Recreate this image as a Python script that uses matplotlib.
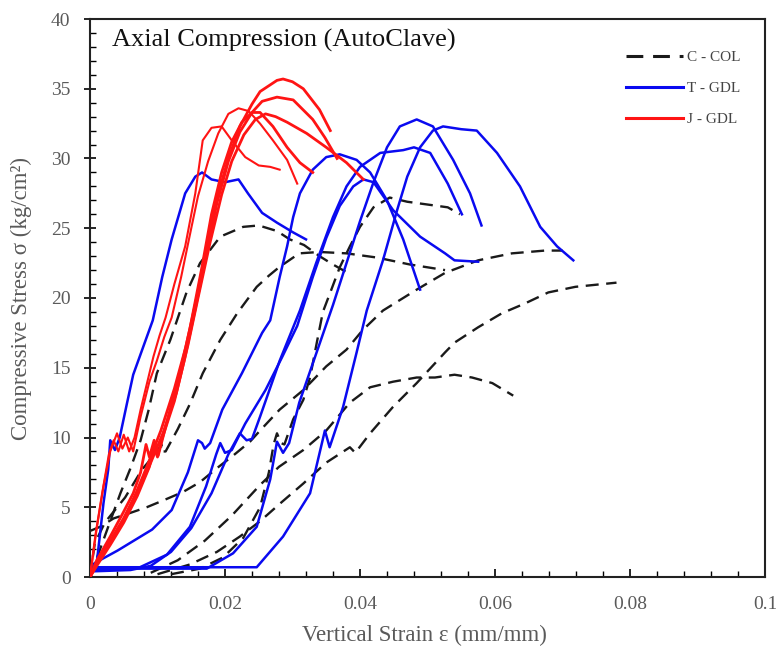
import matplotlib
matplotlib.use("Agg")
import matplotlib.pyplot as plt
from matplotlib.ticker import MultipleLocator, FuncFormatter

plt.rcParams['font.family'] = ['Liberation Serif', 'DejaVu Serif']

# ---------------- C - COL (black dashed) ----------------
c1_x = [0, 0.0015, 0.003, 0.0045, 0.006, 0.0075, 0.0087, 0.0099, 0.0119, 0.0143, 0.0163, 0.0193, 0.0227, 0.025, 0.0277, 0.0296, 0.0317, 0.034, 0.036, 0.0382]
c1_y = [0, 2.0, 4.0, 6.0, 7.8, 9.8, 12.0, 14.6, 17.0, 20.4, 22.5, 24.4, 25.1, 25.2, 24.8, 24.2, 23.8, 23.0, 22.4, 21.8]

c2_x = [0, 0.0007, 0.0022, 0.0052, 0.0077, 0.0098, 0.0106, 0.0104, 0.0112, 0.013, 0.0148, 0.0167, 0.0193, 0.0218, 0.0247, 0.0265, 0.028, 0.031, 0.034, 0.038, 0.0425, 0.0474, 0.0526]
c2_y = [0, 2.4, 3.9, 5.7, 7.7, 8.9, 9.5, 9.0, 9.0, 10.6, 12.4, 14.6, 17.0, 18.9, 20.8, 21.6, 22.2, 23.2, 23.3, 23.2, 22.9, 22.4, 22.0]

c3_x = [0, 0.0015, 0.0035, 0.006, 0.0084, 0.0109, 0.0138, 0.0163, 0.0188, 0.0212, 0.0237, 0.0252, 0.0281, 0.0316, 0.035, 0.038, 0.0404, 0.0434, 0.0484, 0.0526, 0.0575, 0.0625, 0.0674, 0.070]
c3_y = [3.3, 3.6, 4.2, 4.6, 5.0, 5.5, 6.1, 6.8, 7.8, 8.7, 9.7, 10.5, 12.0, 13.4, 15.1, 16.3, 17.7, 19.1, 20.6, 21.8, 22.7, 23.2, 23.4, 23.4]

c4_x = [0.010, 0.0148, 0.0188, 0.0222, 0.0252, 0.028, 0.0316, 0.035, 0.0385, 0.0393, 0.0415, 0.0449, 0.0484, 0.0526, 0.054, 0.0575, 0.061, 0.0644, 0.0679, 0.0719, 0.078]
c4_y = [0.2, 0.9, 1.8, 2.9, 4.0, 5.2, 6.7, 8.2, 9.3, 8.9, 10.3, 12.2, 13.9, 16.1, 16.8, 17.9, 18.9, 19.6, 20.4, 20.8, 21.1]

c5_x = [0.009, 0.013, 0.017, 0.021, 0.0252, 0.028, 0.0316, 0.035, 0.0385, 0.0415, 0.0449, 0.0484, 0.0511, 0.054, 0.0566, 0.0596, 0.0627]
c5_y = [0.3, 1.2, 2.6, 4.4, 6.6, 7.9, 9.1, 10.5, 12.5, 13.6, 14.0, 14.3, 14.3, 14.5, 14.3, 13.9, 13.0]

c6_x = [0.012, 0.0163, 0.0197, 0.0227, 0.0252, 0.0265, 0.0272, 0.0277, 0.0283, 0.0288, 0.0301, 0.0316, 0.0326, 0.0336, 0.0345, 0.0356, 0.037, 0.0385, 0.04, 0.042, 0.0444, 0.047, 0.05, 0.053, 0.0548]
c6_y = [0.2, 0.6, 1.4, 2.8, 5.0, 7.5, 9.5, 10.3, 9.6, 9.5, 11.3, 12.7, 14.3, 16.8, 19.0, 20.4, 22.2, 23.7, 25.1, 26.5, 27.2, 26.9, 26.7, 26.5, 26.0]

# ---------------- T - GDL (blue) ----------------
b1_x = [0, 0.001, 0.002, 0.0027, 0.003, 0.0037, 0.0044, 0.0055, 0.0064, 0.0093, 0.0107, 0.0121, 0.0141, 0.0156, 0.0166, 0.018, 0.02, 0.022, 0.0234, 0.0255, 0.0277, 0.0301, 0.032]
b1_y = [0, 1.0, 5.3, 7.7, 9.8, 9.1, 10.0, 12.5, 14.5, 18.4, 21.5, 24.2, 27.5, 28.7, 29.0, 28.5, 28.3, 28.5, 27.5, 26.1, 25.4, 24.7, 24.2]

b2_x = [0, 0.0007, 0.0041, 0.0092, 0.0121, 0.0145, 0.016, 0.0166, 0.017, 0.0178, 0.0196, 0.0225, 0.0255, 0.0267, 0.0281, 0.0292, 0.0301, 0.0311, 0.033, 0.035, 0.037, 0.0395, 0.0415, 0.044, 0.0464, 0.0489]
b2_y = [0.3, 1.0, 1.9, 3.4, 4.8, 7.5, 9.8, 9.6, 9.2, 9.6, 12.0, 14.6, 17.5, 18.4, 21.5, 23.7, 25.8, 27.5, 29.2, 30.1, 30.3, 29.9, 29.0, 27.0, 24.2, 20.6]

b3_x = [0, 0.004, 0.0074, 0.0114, 0.0148, 0.0172, 0.0187, 0.0193, 0.02, 0.021, 0.023, 0.026, 0.0285, 0.0307, 0.033, 0.035, 0.037, 0.039, 0.0405, 0.042, 0.0449, 0.0489, 0.0526, 0.054, 0.0575]
b3_y = [0.5, 0.6, 0.7, 1.6, 3.6, 6.5, 8.8, 9.6, 8.9, 9.1, 11.0, 13.4, 15.8, 18.0, 21.5, 24.3, 26.6, 28.0, 28.5, 28.3, 26.3, 24.4, 23.2, 22.7, 22.6]

b4_x = [0, 0.006, 0.009, 0.012, 0.015, 0.018, 0.0205, 0.0222, 0.0232, 0.024, 0.0252, 0.0281, 0.0311, 0.0335, 0.036, 0.038, 0.040, 0.043, 0.0464, 0.048, 0.0504, 0.053, 0.0551]
b4_y = [0.4, 0.5, 0.8, 1.8, 3.5, 6.0, 8.8, 10.3, 9.8, 9.9, 11.5, 15.5, 19.1, 22.5, 25.8, 28.0, 29.4, 30.4, 30.6, 30.8, 30.4, 28.2, 26.0]

b5_x = [0, 0.01, 0.0173, 0.0212, 0.0247, 0.0267, 0.0277, 0.0286, 0.0295, 0.031, 0.0335, 0.036, 0.038, 0.040, 0.042, 0.044, 0.0459, 0.0484, 0.0508, 0.0538, 0.0563, 0.058]
b5_y = [0.6, 0.6, 0.6, 1.7, 3.6, 7.0, 9.7, 8.9, 9.6, 12.5, 16.0, 19.5, 22.5, 25.5, 28.3, 30.8, 32.3, 32.8, 32.3, 29.9, 27.5, 25.2]

b6_x = [0, 0.01, 0.0247, 0.0286, 0.0326, 0.0348, 0.0355, 0.0375, 0.0395, 0.041, 0.0434, 0.0455, 0.047, 0.0489, 0.0508, 0.0523, 0.055, 0.0573, 0.0603, 0.0637, 0.0667, 0.0692, 0.0716]
b6_y = [0.7, 0.7, 0.7, 2.9, 6.0, 10.5, 9.3, 12.2, 16.1, 19.1, 22.7, 26.3, 28.7, 30.8, 32.0, 32.3, 32.1, 32.0, 30.4, 28.0, 25.1, 23.7, 22.7]

# ---------------- J - GDL (red) ----------------
r1_x = [0, 0.0008, 0.0018, 0.0028, 0.0035, 0.0042, 0.005, 0.0058, 0.0066, 0.0075, 0.0085, 0.0094, 0.0103, 0.0112, 0.0125, 0.0141, 0.0156, 0.0167, 0.018, 0.0195, 0.021, 0.023, 0.025, 0.0267, 0.0281]
r1_y = [0, 3.0, 6.0, 8.8, 9.8, 9.0, 10.2, 9.0, 10.0, 12.0, 14.0, 15.8, 17.3, 18.6, 21.0, 23.7, 27.5, 31.3, 32.2, 32.3, 31.3, 30.1, 29.5, 29.4, 29.2]

r2_x = [0, 0.001, 0.002, 0.003, 0.004, 0.0048, 0.0056, 0.0064, 0.0075, 0.0088, 0.0099, 0.011, 0.0121, 0.0135, 0.015, 0.016, 0.0175, 0.019, 0.0205, 0.022, 0.0235, 0.0252, 0.0271, 0.0292, 0.0307]
r2_y = [0, 3.5, 6.5, 9.0, 10.3, 9.2, 10.0, 9.0, 11.5, 14.0, 15.5, 17.2, 18.6, 21.5, 25.0, 27.3, 29.8, 31.8, 33.2, 33.6, 33.4, 32.5, 31.3, 29.9, 28.2]

r3_x = [0, 0.001, 0.003, 0.0049, 0.0064, 0.0075, 0.0083, 0.0088, 0.0095, 0.0101, 0.0108, 0.0123, 0.0133, 0.0148, 0.0165, 0.018, 0.0195, 0.021, 0.0225, 0.024, 0.0252, 0.0271, 0.0292, 0.0311, 0.033]
r3_y = [0, 1.2, 2.9, 4.6, 6.0, 7.5, 9.5, 8.6, 9.8, 8.7, 10.0, 12.8, 14.6, 17.8, 22.0, 26.0, 29.0, 31.2, 32.6, 33.3, 33.3, 32.3, 30.8, 29.7, 29.0]

r4_x = [0, 0.001, 0.003, 0.005, 0.0068, 0.0085, 0.0105, 0.0125, 0.0142, 0.0158, 0.0175, 0.019, 0.0205, 0.0222, 0.024, 0.0252, 0.0277, 0.0286, 0.03, 0.0316, 0.034, 0.0356]
r4_y = [0, 1.0, 2.6, 4.2, 6.0, 8.0, 10.5, 13.5, 16.5, 20.0, 24.2, 27.5, 30.0, 32.3, 33.9, 34.8, 35.6, 35.7, 35.5, 35.0, 33.5, 32.0]

r5_x = [0, 0.001, 0.003, 0.005, 0.007, 0.0088, 0.0095, 0.0100, 0.0106, 0.0125, 0.014, 0.0155, 0.0172, 0.0188, 0.0205, 0.0222, 0.024, 0.0255, 0.0277, 0.0301, 0.033, 0.0348, 0.0366]
r5_y = [0, 0.8, 2.3, 3.9, 5.8, 7.9, 9.3, 8.6, 9.8, 12.6, 15.6, 19.0, 23.0, 26.8, 29.8, 31.9, 33.3, 34.1, 34.4, 34.2, 32.8, 31.5, 30.0]

r6_x = [0, 0.001, 0.003, 0.005, 0.007, 0.009, 0.0108, 0.0128, 0.0145, 0.016, 0.0178, 0.0195, 0.021, 0.0228, 0.0245, 0.026, 0.0275, 0.0292, 0.0321, 0.035, 0.038, 0.0405]
r6_y = [0, 0.9, 2.5, 4.2, 6.0, 8.2, 10.3, 13.2, 16.6, 20.0, 24.0, 27.4, 29.8, 31.7, 32.8, 33.2, 33.0, 32.6, 31.8, 30.8, 29.7, 28.5]

col_curves = [(c1_x, c1_y), (c2_x, c2_y), (c3_x, c3_y), (c4_x, c4_y), (c5_x, c5_y), (c6_x, c6_y)]
tgdl_curves = [(b1_x, b1_y), (b2_x, b2_y), (b3_x, b3_y), (b4_x, b4_y), (b5_x, b5_y), (b6_x, b6_y)]
jgdl_curves = [(r1_x, r1_y), (r2_x, r2_y), (r3_x, r3_y), (r4_x, r4_y), (r5_x, r5_y), (r6_x, r6_y)]

series_labels = ["C - COL", "T - GDL", "J - GDL"]
x_ticks = [0, 0.02, 0.04, 0.06, 0.08, 0.1]
y_ticks = [0, 5, 10, 15, 20, 25, 30, 35, 40]

fig = plt.figure(figsize=(7.76, 6.56), dpi=100)
ax = fig.add_axes([90 / 776, 1 - 577 / 656, 675 / 776, 558 / 656])

blue = '#0a0af0'
red = '#ff1414'
black = '#1a1a1a'
dash = (0, (5.5, 3.2))

for i, (x, y) in enumerate(col_curves):
    ax.plot(x, y, color=black, lw=1.7, linestyle=dash, solid_joinstyle='round',
            label=series_labels[0] if i == 0 else None, zorder=2)
for i, (x, y) in enumerate(tgdl_curves):
    ax.plot(x, y, color=blue, lw=1.8, solid_joinstyle='round',
            label=series_labels[1] if i == 0 else None, zorder=3)
for i, (x, y) in enumerate(jgdl_curves):
    ax.plot(x, y, color=red, lw=2.0 if i >= 2 else 1.5, solid_joinstyle='round',
            label=series_labels[2] if i == 0 else None, zorder=4)

ax.set_xlim(0, 0.1)
ax.set_ylim(0, 40)
ax.set_xticks(x_ticks)
ax.set_yticks(y_ticks)
ax.xaxis.set_minor_locator(MultipleLocator(0.004))
ax.yaxis.set_minor_locator(MultipleLocator(1))
ax.xaxis.set_major_formatter(FuncFormatter(lambda v, p: '0' if v == 0 else ('%g' % v)))

grey = '#5a5a5a'
ax.tick_params(axis='y', which='major', direction='inout', length=8, width=1.2,
               labelsize=14, labelcolor=grey, pad=10)
ax.tick_params(axis='x', which='major', direction='in', length=6, width=1.2,
               labelsize=14, labelcolor=grey, pad=14)
ax.tick_params(which='minor', direction='in', length=4, width=1.0)
for s in ax.spines.values():
    s.set_linewidth(1.5)
    s.set_color('#222222')

ax.set_xlabel('Vertical Strain ε (mm/mm)', fontsize=16.5, color=grey)
ax.set_ylabel('Compressive Stress σ (kg/cm²)', fontsize=16.5, color=grey)
ax.xaxis.set_label_coords(0.496, -0.085)
ax.yaxis.set_label_coords(-0.086, 0.5)

ax.text(0.032, 0.962, 'Axial Compression (AutoClave)', transform=ax.transAxes,
        fontsize=19, color='#111111', ha='left', va='center')

leg = ax.legend(loc='upper right', bbox_to_anchor=(0.964, 0.944), frameon=False,
                borderpad=0, borderaxespad=0,
                fontsize=11, handlelength=3.7, handletextpad=0.3, labelspacing=1.15)
for t in leg.get_texts():
    t.set_color('#444444')
for h in leg.get_lines():
    h.set_linewidth(2.2)

fig.savefig('out.png', dpi=100)
